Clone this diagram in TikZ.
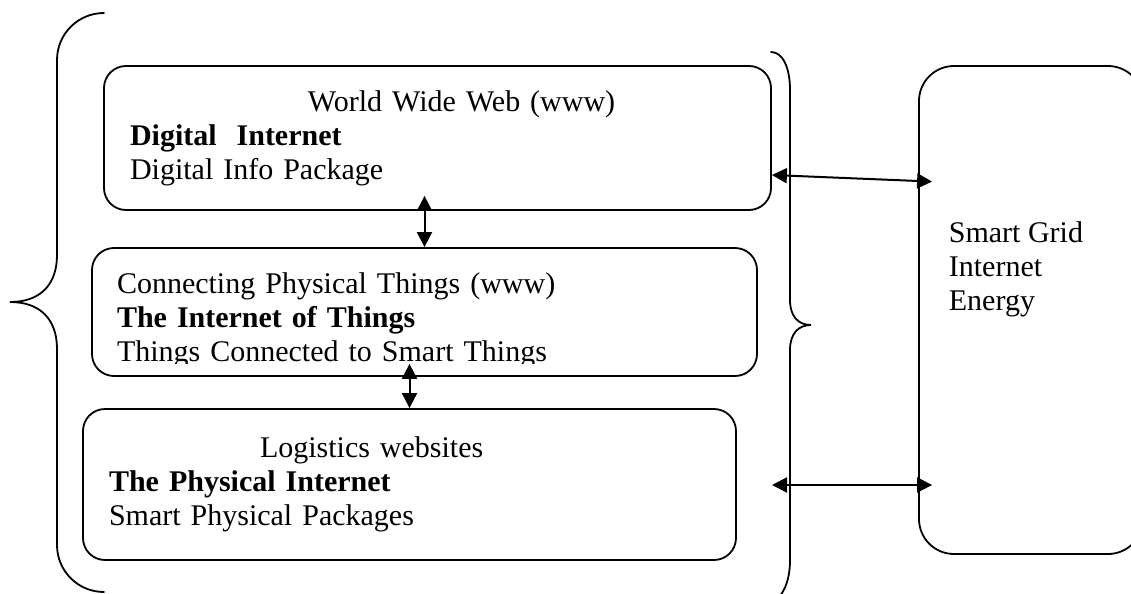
\documentclass[tikz,border=0pt]{standalone}
\usepackage{fontspec}
\setmainfont{Liberation Serif}
\usetikzlibrary{arrows.meta}

\begin{document}
\begin{tikzpicture}[x=0.5pt, y=-0.5pt, line width=0.9pt,
   font=\fontsize{15}{17}\selectfont,
   box/.style={draw, rounded corners=11pt, align=left, inner xsep=13pt, inner ysep=0pt},
   tall/.style={draw, rounded corners=17.5pt},
   twoway/.style={{Triangle[length=7.5pt,width=7.5pt]}-{Triangle[length=7.5pt,width=7.5pt]}, line width=1pt},
   curly/.style={line cap=round}]
  \useasboundingbox (0,0) rectangle (1131,594);

  % the three internet layers
  \node[box, text width=307.5pt, minimum width=333.5pt, minimum height=72pt] (www) at (437.5,138)
    {\hspace*{89pt}World Wide Web (www)\\ \textbf{Digital\ \ Internet}\\ Digital Info Package};
  \node[box, minimum width=332.5pt, minimum height=64pt] (iot) at (424.5,312) {};
  \begin{scope}
    \clip (iot.north west) rectangle ([yshift=6.5pt]iot.south east);
    \node[box, draw=none, text width=307.5pt] (iottxt) at ([yshift=-4pt]iot.center)
      {Connecting Physical Things (www)\\ \textbf{The Internet of Things}\\ Things Connected to Smart Things};
  \end{scope}
  \node[box, text width=300.5pt, minimum width=326.5pt, minimum height=75.5pt] (logis) at (409.5,484.5)
    {\hspace*{75.5pt}Logistics websites\\ \textbf{The Physical Internet}\\ Smart Physical Packages};

  % energy side
  \node[tall, minimum width=112pt, minimum height=244pt] (grid) at (1031,310) {};
  \node[align=left, inner sep=0pt, anchor=north west] (gridtxt) at (948,221) {Smart Grid\\Internet\\Energy};

  % links
  \draw[twoway, shorten <=-7.5pt] (iot.north |- www.south) -- (iot.north);
  \draw[twoway, shorten <=-6.5pt] (logis.north |- iot.south) -- (logis.north);
  \draw[twoway, shorten >=-7pt] ([yshift=-18.5pt]www.east) -- ([yshift=64.5pt]grid.west);
  \coordinate (low) at (772,485);
  \draw[twoway, shorten >=-7pt] (low) -- (low -| grid.west);

  % braces
  \draw[curly] (104,13) .. controls (78,13) and (57,34) .. (57,60) -- (57,255)
     .. controls (57,285) and (40,302) .. (10,302)
     .. controls (40,302) and (57,319) .. (57,349) -- (57,545)
     .. controls (57,571) and (78,592) .. (104,592);
  \draw[curly] (771,52) .. controls (783,52) and (790,68) .. (790,90) -- (790,300)
     .. controls (790,316) and (798,325) .. (811,325)
     .. controls (798,325) and (790,334) .. (790,350) -- (790,560)
     .. controls (790,582) and (783,598) .. (768,606);
\end{tikzpicture}
\end{document}
